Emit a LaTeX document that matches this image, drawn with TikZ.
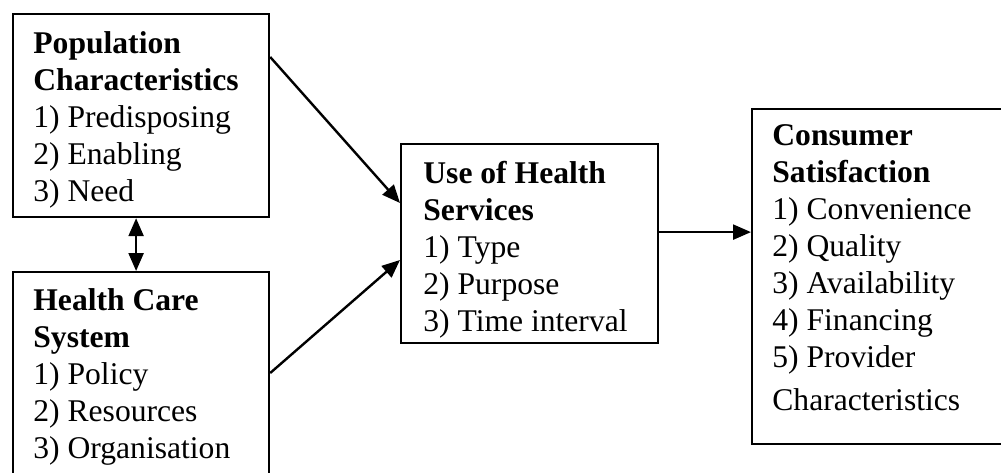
\documentclass[tikz,border=0pt]{standalone}
\usepackage{fontspec}
\setmainfont{Liberation Serif}
\usetikzlibrary{arrows.meta}
\usetikzlibrary{positioning}
\tikzset{
  mybox/.style={draw, line width=1.1pt, anchor=north west, inner sep=0pt},
  mytext/.style={anchor=base west, inner sep=0pt, align=left, font=\fontsize{15.8pt}{18.5pt}\selectfont},
  myarrow/.style={line width=1.2pt, -{Triangle[length=9pt, width=7.5pt]}}
}

\begin{document}
\begin{tikzpicture}[x=0.5pt, y=-0.5pt]
\useasboundingbox (0,0) rectangle (1001,472);
\clip (0,0) rectangle (1001,472);

% boxes
\node[mybox, minimum width=128pt, minimum height=101.5pt] (pop) at (12,13) {};
\node[mybox, minimum width=128pt, minimum height=104.5pt] (hcs) at (12,271) {};
\node[mybox, minimum width=128.5pt, minimum height=99.5pt] (use) at (400,143) {};
\node[mybox, minimum width=129.5pt, minimum height=167.5pt] (sat) at (751,108) {};

% texts (anchored on the last line)
\node[mytext] (popText) at (33,201.7) {\textbf{Population}\\ \textbf{Characteristics}\\ 1) Predisposing\\ 2) Enabling\\ 3) Need};
\node[mytext] (hcsText) at (33,458) {\textbf{Health Care}\\ \textbf{System}\\ 1) Policy\\ 2) Resources\\ 3) Organisation};
\node[mytext] (useText) at (423,331) {\textbf{Use of Health}\\ \textbf{Services}\\ 1) Type\\ 2) Purpose\\ 3) Time interval};
\node[mytext] (satText) at (772,410) {\textbf{Consumer}\\ \textbf{Satisfaction}\\ 1) Convenience\\ 2) Quality\\ 3) Availability\\ 4) Financing\\ 5) Provider\\[3pt] Characteristics};

% arrows
\draw[myarrow, {Triangle[length=9pt, width=7.5pt]}-{Triangle[length=9pt, width=7.5pt]}] ([xshift=-2.5pt]pop.south) -- ([xshift=-2.5pt]hcs.north);
\draw[myarrow] ([yshift=-22pt]pop.north east) -- ([yshift=-30pt]use.north west);
\draw[myarrow] ([yshift=-51pt]hcs.north east) -- ([yshift=-58.5pt]use.north west);
\draw[myarrow] ([yshift=5.75pt]use.east) -- ([yshift=5.75pt]use.east -| sat.west);
\end{tikzpicture}
\end{document}
